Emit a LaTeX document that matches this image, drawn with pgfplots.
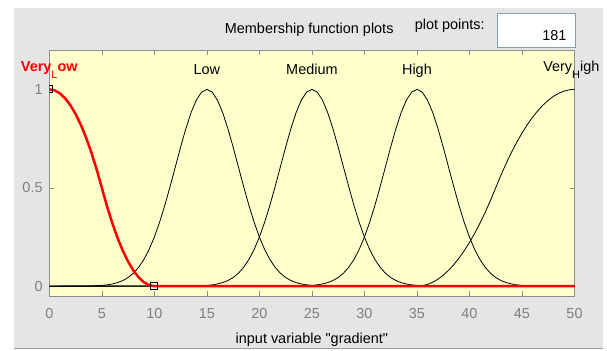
\documentclass[border=0pt]{standalone}
\usepackage{pgfplots}
\pgfplotsset{compat=1.18}
\usepackage{fontspec}
\setmainfont{Liberation Sans}[Ligatures=TeXOff]
\definecolor{panel}{RGB}{229,229,229}
\definecolor{axbg}{RGB}{255,255,204}
\definecolor{bord}{RGB}{140,140,140}
\definecolor{tickc}{RGB}{128,128,128}
\definecolor{boxb}{RGB}{127,157,185}
\newcommand{\fs}{\fontsize{14.5}{14.5}\selectfont}
\begin{document}
\begin{tikzpicture}[x=1bp,y=1bp]
\path[use as bounding box] (-49.3,-54) rectangle (557.7,296);
\fill[white] (-49.3,-54) rectangle (557.7,296);
\fill[panel] (-35.7,288.3) rectangle (553.7,-52);
\draw[gray!80] (-35.7,-52) -- (553.7,-52);
\node[font=\fs, anchor=base] at (259.9,262.7) {Membership function plots};
\node[font=\fs, anchor=base] at (400.5,267) {plot points:};
\draw[boxb, fill=white, line width=0.8bp] (448.4,282.7) rectangle (525.7,248.3);
\node[font=\fs, anchor=base east, inner sep=0pt] at (517.4,256) {181};
\begin{axis}[
  at={(0,0)}, anchor=south west,
  scale only axis, width=525.2bp, height=246bp,
  xmin=0, xmax=50, ymin=-0.05, ymax=1.2,
  axis background/.style={fill=axbg},
  axis line style={bord},
  xtick={0,5,...,50}, ytick={0,0.5,1},
  tick align=inside, major tick length=5bp,
  every tick/.style={bord},
  tick label style={font=\fs, text=tickc},
  /pgf/number format/assume math mode=true,
  yticklabel style={/pgf/number format/fixed, xshift=-3.2bp},
  xticklabel style={anchor=base, yshift=-22.3bp},
  xlabel={input variable "gradient"},
  xlabel style={font=\fs, at={(axis description cs:0.5,0)}, anchor=base, yshift=-47bp},
  clip marker paths=true,
  after end axis/.code={
    \node[font=\fs\bfseries, text=red, anchor=base, inner sep=0pt] at (axis cs:0,1.09) {Very\raisebox{-6.5bp}{\mdseries\fontsize{11}{11}\selectfont L}ow};
    \node[font=\fs, anchor=base, inner sep=0pt] at (axis cs:15,1.073) {Low};
    \node[font=\fs, anchor=base, inner sep=0pt] at (axis cs:25,1.073) {Medium};
    \node[font=\fs, anchor=base, inner sep=0pt] at (axis cs:35,1.073) {High};
    \node[font=\fs, anchor=base, inner sep=0pt] at (axis cs:49.7,1.09) {Very\raisebox{-7bp}{\fontsize{11}{11}\selectfont H}igh};
  },
]
% Low
\addplot[black, line width=0.8bp] coordinates {
(0,0) (4,0.0012) (5,0.0039) (5.5,0.0066) (6,0.0111) (6.5,0.0181) (7,0.0286) (7.5,0.0439) (8,0.0657) (8.5,0.0956) (9,0.1353) (9.5,0.1863) (10,0.2494) (10.5,0.3247) (11,0.4111) (11.5,0.5063) (12,0.6065) (12.5,0.7066) (13,0.8007) (13.5,0.8825) (14,0.9460) (14.5,0.9862) (15,1) (15.5,0.9862) (16,0.9460) (16.5,0.8825) (17,0.8007) (17.5,0.7066) (18,0.6065) (18.5,0.5063) (19,0.4111) (19.5,0.3247) (20,0.2494) (20.5,0.1863) (21,0.1353) (21.5,0.0956) (22,0.0657) (22.5,0.0439) (23,0.0286) (23.5,0.0181) (24,0.0111) (24.5,0.0066) (25,0.0039) (26,0.0012) (50,0)};
% Medium
\addplot[black, line width=0.8bp] coordinates {
(0,0) (14,0.0012) (15,0.0039) (15.5,0.0066) (16,0.0111) (16.5,0.0181) (17,0.0286) (17.5,0.0439) (18,0.0657) (18.5,0.0956) (19,0.1353) (19.5,0.1863) (20,0.2494) (20.5,0.3247) (21,0.4111) (21.5,0.5063) (22,0.6065) (22.5,0.7066) (23,0.8007) (23.5,0.8825) (24,0.9460) (24.5,0.9862) (25,1) (25.5,0.9862) (26,0.9460) (26.5,0.8825) (27,0.8007) (27.5,0.7066) (28,0.6065) (28.5,0.5063) (29,0.4111) (29.5,0.3247) (30,0.2494) (30.5,0.1863) (31,0.1353) (31.5,0.0956) (32,0.0657) (32.5,0.0439) (33,0.0286) (33.5,0.0181) (34,0.0111) (34.5,0.0066) (35,0.0039) (36,0.0012) (50,0)};
% High
\addplot[black, line width=0.8bp] coordinates {
(0,0) (24,0.0012) (25,0.0039) (25.5,0.0066) (26,0.0111) (26.5,0.0181) (27,0.0286) (27.5,0.0439) (28,0.0657) (28.5,0.0956) (29,0.1353) (29.5,0.1863) (30,0.2494) (30.5,0.3247) (31,0.4111) (31.5,0.5063) (32,0.6065) (32.5,0.7066) (33,0.8007) (33.5,0.8825) (34,0.9460) (34.5,0.9862) (35,1) (35.5,0.9862) (36,0.9460) (36.5,0.8825) (37,0.8007) (37.5,0.7066) (38,0.6065) (38.5,0.5063) (39,0.4111) (39.5,0.3247) (40,0.2494) (40.5,0.1863) (41,0.1353) (41.5,0.0956) (42,0.0657) (42.5,0.0439) (43,0.0286) (43.5,0.0181) (44,0.0111) (44.5,0.0066) (45,0.0039) (46,0.0012) (50,0)};
% Very High
\addplot[black, line width=0.8bp] coordinates {
(0,0) (35,0) (35.5,0.0022) (36,0.0089) (36.5,0.02) (37,0.0356) (37.5,0.0556) (38,0.08) (38.5,0.1089) (39,0.1422) (39.5,0.18) (40,0.2222) (40.5,0.2689) (41,0.32) (41.5,0.3756) (42,0.4356) (42.5,0.5) (43,0.5644) (43.5,0.6244) (44,0.68) (44.5,0.7311) (45,0.7778) (45.5,0.82) (46,0.8578) (46.5,0.8911) (47,0.92) (47.5,0.9444) (48,0.9644) (48.5,0.98) (49,0.9911) (49.5,0.9978) (50,1)};
% Very Low (selected)
\addplot[red, line width=2.5bp] coordinates {
(0,1) (0.5,0.995) (1,0.98) (1.5,0.955) (2,0.92) (2.5,0.875) (3,0.82) (3.5,0.755) (4,0.68) (4.5,0.595) (5,0.5) (5.5,0.405) (6,0.32) (6.5,0.245) (7,0.18) (7.5,0.125) (8,0.08) (8.5,0.045) (9,0.02) (9.5,0.005) (10,0) (50,0)};
\addplot[only marks, mark=square, mark size=3.5bp, black, line width=0.8bp] coordinates {(0,1) (10,0)};
\end{axis}
\end{tikzpicture}
\end{document}
